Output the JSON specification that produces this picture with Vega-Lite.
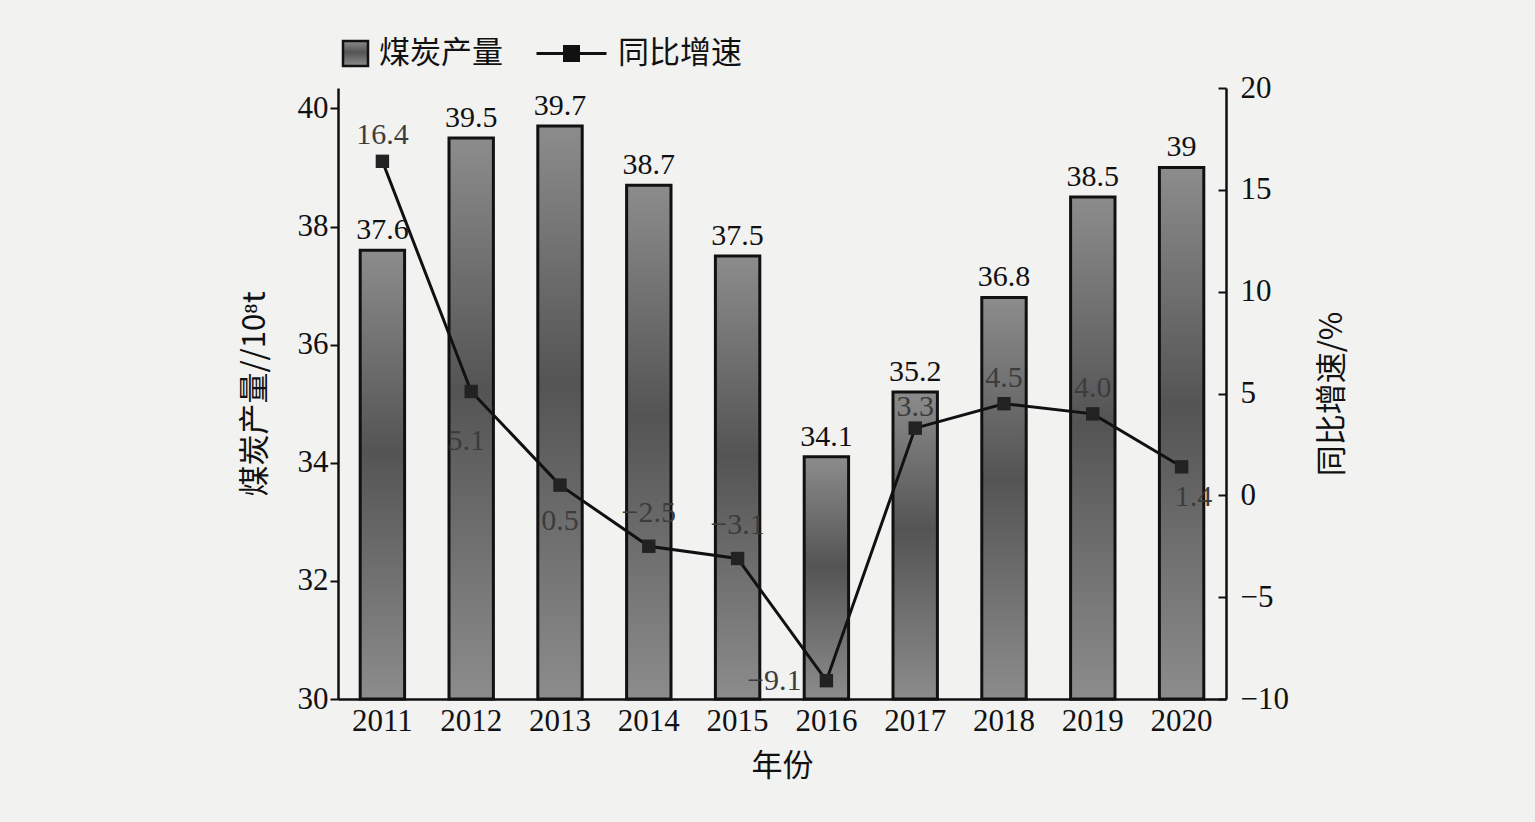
{
  "$schema": "https://vega.github.io/schema/vega-lite/v6.json",
  "width": 888,
  "height": 611,
  "autosize": {"type": "none"},
  "padding": {"left": 338, "top": 88, "right": 309, "bottom": 123},
  "background": "#f2f2f1",
  "config": {
    "view": {"stroke": null},
    "axis": {"grid": false, "domainColor": "#111", "domainWidth": 2.5, "tickColor": "#111", "tickWidth": 2, "labelColor": "#111", "titleColor": "#111", "labelFont": "Liberation Serif", "labelFontSize": 31, "titleFont": "Noto Sans CJK SC", "titleFontSize": 31, "titleFontWeight": "normal"},
    "legend": {"padding": 0, "offset": 0}
  },
  "data": {
    "values": [
      {"year": "2011", "production": 37.6, "growth": 16.4},
      {"year": "2012", "production": 39.5, "growth": 5.1},
      {"year": "2013", "production": 39.7, "growth": 0.5},
      {"year": "2014", "production": 38.7, "growth": -2.5},
      {"year": "2015", "production": 37.5, "growth": -3.1},
      {"year": "2016", "production": 34.1, "growth": -9.1},
      {"year": "2017", "production": 35.2, "growth": 3.3},
      {"year": "2018", "production": 36.8, "growth": 4.5},
      {"year": "2019", "production": 38.5, "growth": 4.0},
      {"year": "2020", "production": 39, "growth": 1.4}
    ]
  },
  "layer": [
    {
      "layer": [
        {
          "mark": {
            "type": "bar",
            "strokeWidth": 3,
            "fill": {"gradient": "linear", "x1": 0, "y1": 0, "x2": 0, "y2": 1, "stops": [{"offset": 0, "color": "#8c8c8c"}, {"offset": 0.45, "color": "#545454"}, {"offset": 1, "color": "#8c8c8c"}]}
          },
          "encoding": {
            "x": {
              "field": "year", "type": "ordinal",
              "scale": {"paddingInner": 0.5, "paddingOuter": 0.25},
              "axis": {"title": "年份", "labelAngle": 0, "tickSize": -6, "labelPadding": 13, "titlePadding": 15}
            },
            "y": {
              "field": "production", "type": "quantitative",
              "scale": {"domain": [30, 40.345], "nice": false, "zero": false},
              "axis": {"title": "煤炭产量//10⁸t", "values": [30, 32, 34, 36, 38, 40], "format": "d", "tickSize": 8, "labelPadding": 2, "titlePadding": 26}
            },
            "y2": {"datum": 30},
            "stroke": {
              "datum": "煤炭产量", "type": "nominal",
              "scale": {"range": ["#111"]},
              "legend": {
                "orient": "none", "legendX": 2, "legendY": -50, "title": null,
                "symbolType": "square", "symbolSize": 625, "symbolStrokeWidth": 2.5,
                "labelFont": "Noto Sans CJK SC", "labelFontSize": 31, "labelColor": "#111", "labelOffset": 8,
                "encode": {"symbols": {"update": {"fill": {"value": "#777"}, "stroke": {"value": "#111"}}}}
              }
            }
          }
        },
        {
          "mark": {"type": "text", "dy": -20, "font": "Liberation Serif", "fontSize": 30, "color": "#111"},
          "encoding": {
            "x": {"field": "year", "type": "ordinal"},
            "y": {"field": "production", "type": "quantitative"},
            "text": {"field": "production", "type": "quantitative", "format": ".1~f"}
          }
        }
      ]
    },
    {
      "layer": [
        {
          "mark": {"type": "line", "strokeWidth": 3},
          "encoding": {
            "x": {"field": "year", "type": "ordinal"},
            "y": {
              "field": "growth", "type": "quantitative",
              "scale": {"domain": [-10, 20], "nice": false},
              "axis": {"orient": "right", "title": "同比增速/%", "titleAngle": 270, "values": [-10, -5, 0, 5, 10, 15, 20], "tickSize": -8, "labelPadding": 22, "titlePadding": 60}
            },
            "stroke": {
              "datum": "同比增速", "type": "nominal",
              "scale": {"range": ["#111"]},
              "legend": {
                "orient": "none", "legendX": 197, "legendY": -71, "title": null,
                "symbolType": "M-1,0L1,0M-0.2,-0.2L0.2,-0.2L0.2,0.2L-0.2,0.2Z", "symbolSize": 4900, "symbolStrokeWidth": 3,
                "labelFont": "Noto Sans CJK SC", "labelFontSize": 31, "labelColor": "#111", "labelOffset": 10,
                "encode": {"symbols": {"update": {"fill": {"value": "#111"}, "stroke": {"value": "#111"}}}}
              }
            }
          }
        },
        {
          "mark": {"type": "square", "size": 180, "filled": true, "color": "#222", "opacity": 1},
          "encoding": {
            "x": {"field": "year", "type": "ordinal"},
            "y": {"field": "growth", "type": "quantitative"}
          }
        },
        {
          "transform": [{"filter": {"field": "year", "oneOf": ["2011", "2018", "2019"]}}],
          "mark": {"type": "text", "dy": -26, "font": "Liberation Serif", "fontSize": 30, "color": "#3c3c3c"},
          "encoding": {
            "x": {"field": "year", "type": "ordinal"},
            "y": {"field": "growth", "type": "quantitative"},
            "text": {"field": "growth", "type": "quantitative", "format": ".1f"}
          }
        },
        {
          "transform": [{"filter": {"field": "year", "oneOf": ["2017"]}}],
          "mark": {"type": "text", "dy": -21, "font": "Liberation Serif", "fontSize": 30, "color": "#3c3c3c"},
          "encoding": {
            "x": {"field": "year", "type": "ordinal"},
            "y": {"field": "growth", "type": "quantitative"},
            "text": {"field": "growth", "type": "quantitative", "format": ".1f"}
          }
        },
        {
          "transform": [{"filter": {"field": "year", "oneOf": ["2014", "2015"]}}],
          "mark": {"type": "text", "dy": -33, "font": "Liberation Serif", "fontSize": 30, "color": "#3c3c3c"},
          "encoding": {
            "x": {"field": "year", "type": "ordinal"},
            "y": {"field": "growth", "type": "quantitative"},
            "text": {"field": "growth", "type": "quantitative", "format": ".1f"}
          }
        },
        {
          "transform": [{"filter": {"field": "year", "oneOf": ["2012"]}}],
          "mark": {"type": "text", "dy": 50, "dx": -5, "font": "Liberation Serif", "fontSize": 30, "color": "#3c3c3c"},
          "encoding": {
            "x": {"field": "year", "type": "ordinal"},
            "y": {"field": "growth", "type": "quantitative"},
            "text": {"field": "growth", "type": "quantitative", "format": ".1f"}
          }
        },
        {
          "transform": [{"filter": {"field": "year", "oneOf": ["2013"]}}],
          "mark": {"type": "text", "dy": 36, "font": "Liberation Serif", "fontSize": 30, "color": "#3c3c3c"},
          "encoding": {
            "x": {"field": "year", "type": "ordinal"},
            "y": {"field": "growth", "type": "quantitative"},
            "text": {"field": "growth", "type": "quantitative", "format": ".1f"}
          }
        },
        {
          "transform": [{"filter": {"field": "year", "oneOf": ["2020"]}}],
          "mark": {"type": "text", "dy": 30, "dx": 12, "font": "Liberation Serif", "fontSize": 30, "color": "#3c3c3c"},
          "encoding": {
            "x": {"field": "year", "type": "ordinal"},
            "y": {"field": "growth", "type": "quantitative"},
            "text": {"field": "growth", "type": "quantitative", "format": ".1f"}
          }
        },
        {
          "transform": [{"filter": {"field": "year", "oneOf": ["2016"]}}],
          "mark": {"type": "text", "dx": -52, "font": "Liberation Serif", "fontSize": 30, "color": "#3c3c3c"},
          "encoding": {
            "x": {"field": "year", "type": "ordinal"},
            "y": {"field": "growth", "type": "quantitative"},
            "text": {"field": "growth", "type": "quantitative", "format": ".1f"}
          }
        }
      ]
    }
  ],
  "resolve": {"scale": {"y": "independent", "stroke": "independent"}, "legend": {"stroke": "independent"}}
}
